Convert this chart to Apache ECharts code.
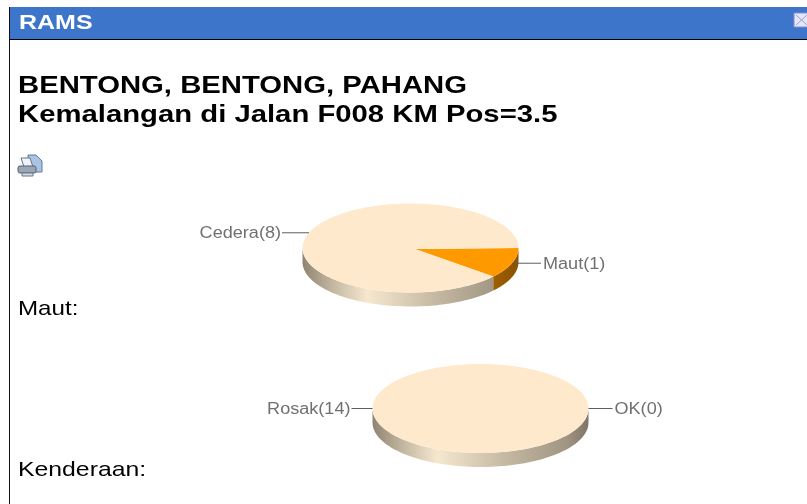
<!DOCTYPE html>
<html><head><meta charset="utf-8">
<style>html,body{margin:0;padding:0;background:#fff}#c{width:807px;height:504px;filter:blur(0.45px)}</style>
<script src="https://cdn.jsdelivr.net/npm/echarts@6/dist/echarts.min.js"></script>
</head><body><div id="c"></div>
<script>
// ---- data ----
const windowTitle = 'RAMS';
const titleLines = ['BENTONG, BENTONG, PAHANG', 'Kemalangan di Jalan F008 KM Pos=3.5'];
const mautNames = ['Maut', 'Cedera'];
const mautValues = [1, 8];
const kenderaanNames = ['OK', 'Rosak'];
const kenderaanValues = [0, 14];
const mautCaption = 'Maut:';
const kenderaanCaption = 'Kenderaan:';

// ---- styles / layout ----
const FONT = '"Liberation Sans", Arial, sans-serif';
const CREAM = '#FFE9CC', ORANGE = '#FF9900';
const RX = 108, RY = 44.5, DEPTH = 14, STEPS = 90;

function pt(cx, cy, deg, dy) {
  const a = deg * Math.PI / 180;
  return [cx + RX * Math.cos(a), cy + RY * Math.sin(a) + (dy || 0)];
}
function rimFill(cx, stops) {
  return new echarts.graphic.LinearGradient(cx - RX, 0, cx + RX, 0, stops, true);
}
const creamRim = [
  {offset: 0, color: '#8F8472'}, {offset: .12, color: '#BDB09A'}, {offset: .3, color: '#F6E8CF'},
  {offset: .62, color: '#C4B8A2'}, {offset: .9, color: '#A09582'}, {offset: 1, color: '#7F7566'}];
const orangeRim = [{offset: 0, color: '#B06A00'}, {offset: .85, color: '#A56200'}, {offset: 1, color: '#8A5200'}];

function pieSeries(names, values, colors, rims, cx, cy, leadL, leadR) {
  const total = values.reduce((a, b) => a + b, 0);
  return {
    type: 'custom', coordinateSystem: 'none', silent: true, animation: false,
    data: values.map((v, i) => ({name: names[i], value: [i, v]})),
    renderItem(params, api) {
      const i = api.value(0), v = api.value(1);
      const before = values.slice(0, i).reduce((a, b) => a + b, 0);
      const a0 = before / total * 360, a1 = (before + v) / total * 360;
      const children = [];
      // side wall: only the part of the slice facing the viewer (0..180 deg)
      const r0 = Math.max(a0, 0), r1 = Math.min(a1, 180);
      if (r1 > r0) {
        const top = [], bot = [];
        for (let k = 0; k <= STEPS; k++) {
          const d = r0 + (r1 - r0) * k / STEPS;
          top.push(pt(cx, cy, d));
          bot.unshift(pt(cx, cy, d, DEPTH));
        }
        children.push({type: 'polygon', z2: 1, shape: {points: top.concat(bot)},
          style: {fill: rimFill(cx, rims[i])}});
      }
      // top face (the apex sits a little right of the ellipse centre in the reference)
      if (a1 > a0) {
        const face = a1 - a0 >= 360 ? [] : [[cx + 4.5, cy + 1]];
        for (let k = 0; k <= STEPS * 2; k++) face.push(pt(cx, cy, a0 + (a1 - a0) * k / (STEPS * 2)));
        children.push({type: 'polygon', z2: 2, shape: {points: face}, style: {fill: colors[i]}});
      }
      // leader + label
      const mid = (a0 + a1) / 2, p = pt(cx, cy, mid);
      const right = Math.cos(mid * Math.PI / 180) > 0;
      const ex = p[0] + (right ? leadR : -leadL);
      children.push({type: 'line', z2: 3, shape: {x1: p[0], y1: p[1], x2: ex, y2: p[1]},
        style: {stroke: '#5E5E5E', lineWidth: 1}});
      children.push({type: 'text', z2: 3, x: ex + (right ? 2 : -1), y: p[1] + 1, scaleX: 1.13, style: {
        text: names[i] + '(' + v + ')', fill: '#707070', font: '16px ' + FONT,
        textAlign: right ? 'left' : 'right', textVerticalAlign: 'middle'}});
      return {type: 'group', children};
    }
  };
}

const txt = (x, y, text, font, fill, sx) => ({type: 'text', x, y, scaleX: sx, silent: true,
  style: {text, font: font + ' ' + FONT, fill, textVerticalAlign: 'middle'}});

const chart = echarts.init(document.getElementById('c'), null, {renderer: 'canvas'});
chart.setOption({
  animation: false,
  backgroundColor: '#fff',
  graphic: {elements: [
    {type: 'rect', shape: {x: 10, y: 7, width: 797, height: 32}, style: {fill: '#3D75CA'}},
    {type: 'rect', shape: {x: 10, y: 39, width: 797, height: 1}, style: {fill: '#000'}},
    {type: 'rect', shape: {x: 9, y: 7, width: 1, height: 497}, style: {fill: '#111'}},
    txt(19, 23, windowTitle, 'bold 21px', '#fff', 1.19),
    {type: 'rect', shape: {x: 794, y: 13, width: 14, height: 14}, style: {fill: '#E6E6F8', stroke: '#8C8CD8', lineWidth: 1}},
    {type: 'line', shape: {x1: 796, y1: 15, x2: 807, y2: 25}, style: {stroke: '#8FA6DC', lineWidth: 1}},
    {type: 'line', shape: {x1: 796, y1: 25, x2: 807, y2: 15}, style: {stroke: '#8FA6DC', lineWidth: 1}},
    txt(18, 86, titleLines[0], 'bold 24px', '#000', 1.22),
    txt(18, 115, titleLines[1], 'bold 24px', '#000', 1.22),
    // print icon
    {type: 'polygon', shape: {points: [[28,155],[36,155],[42,161],[42,172],[28,172]]}, style: {fill: '#A9C3E0', stroke: '#5A7CA6', lineWidth: 1}},
    {type: 'polygon', shape: {points: [[21,158],[30,158],[33,167],[24,167]]}, style: {fill: '#EEF2F6', stroke: '#6B7686', lineWidth: 1}},
    {type: 'rect', shape: {x: 18, y: 166, width: 18, height: 7, r: 2}, style: {fill: '#9AA6B6', stroke: '#56606E', lineWidth: 1}},
    {type: 'rect', shape: {x: 22, y: 173, width: 11, height: 3}, style: {fill: '#D5DBE3', stroke: '#6B7686', lineWidth: 1}},
    txt(18, 309, mautCaption, '21px', '#000', 1.15),
    txt(18, 470, kenderaanCaption, '21px', '#000', 1.18)
  ]},
  series: [
    pieSeries(mautNames, mautValues, [ORANGE, CREAM], [orangeRim, creamRim], 410.5, 248, 27, 29),
    pieSeries(kenderaanNames, kenderaanValues, [ORANGE, CREAM], [orangeRim, creamRim], 480.5, 408.5, 21, 24)
  ]
});
</script></body></html>
